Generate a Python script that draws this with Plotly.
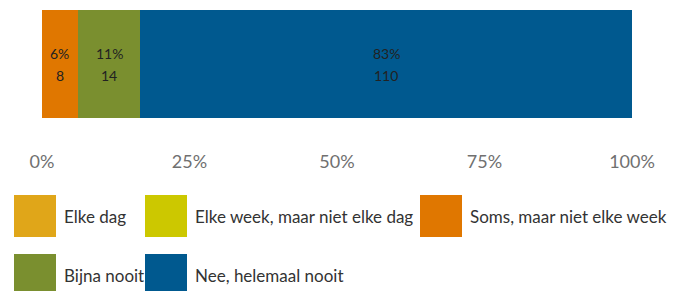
import plotly.graph_objects as go

categories = ["Elke dag", "Elke week, maar niet elke dag", "Soms, maar niet elke week",
              "Bijna nooit", "Nee, helemaal nooit"]
counts = [0, 0, 8, 14, 110]
colors = ["#E0A619", "#CCC800", "#E07700", "#7A8F2F", "#00598F"]
tick_vals = [0, 25, 50, 75, 100]
tick_labels = ["0%", "25%", "50%", "75%", "100%"]

W, H = 685, 291
OFF = 8  # page body margin
L, R, T, B = 42 - OFF, 53 + OFF, 10 - OFF, 173 + OFF
total = sum(counts)

fig = go.Figure()
cum = 0
for cat, c, col in zip(categories, counts, colors):
    pct = c / total * 100
    fig.add_trace(go.Bar(
        y=[0], x=[pct], orientation="h", name=cat,
        marker=dict(color=col, line=dict(width=0)),
        showlegend=False, hoverinfo="skip",
    ))
    if c > 0:
        mid = cum + pct / 2
        for txt, ys in ((f"{round(pct)}%", 11), (str(c), -11)):
            fig.add_annotation(x=mid, y=0, xref="x", yref="y", text=txt,
                               showarrow=False, yshift=ys,
                               font=dict(family="Lato, sans-serif", size=14, color="#222"))
    cum += pct

fig.update_layout(
    width=W, height=H, barmode="stack", bargap=0,
    margin=dict(l=L, r=R, t=T, b=B),
    paper_bgcolor="white", plot_bgcolor="white",
    xaxis=dict(range=[0, 100], tickvals=tick_vals, ticktext=tick_labels,
               showgrid=False, zeroline=False, showline=False,
               ticks="outside", ticklen=27, tickcolor="rgba(0,0,0,0)",
               tickfont=dict(family="Lato, sans-serif", size=18, color="#707070")),
    yaxis=dict(showticklabels=False, showgrid=False, zeroline=False, range=[-0.5, 0.5]),
)

pw = W - L - R
ph = H - T - B
def px(x):
    return (x - OFF - L) / pw
def py(y):
    return (H - B - (y - OFF)) / ph

# custom legend (positions in screen pixels)
legend_pos = [(14, 195), (145, 195), (420, 195), (14, 254), (145, 254)]
for (x0, y0), cat, col in zip(legend_pos, categories, colors):
    fig.add_shape(type="rect", xref="paper", yref="paper",
                  x0=px(x0), x1=px(x0 + 42), y0=py(y0), y1=py(y0 + 42),
                  fillcolor=col, line=dict(width=0), layer="above")
    fig.add_annotation(xref="paper", yref="paper", x=px(x0 + 48), y=py(y0 + 21),
                       text=cat, showarrow=False, xanchor="left", yanchor="middle",
                       font=dict(family="Lato, sans-serif", size=17, color="#333"))

fig.write_html("out.html")
